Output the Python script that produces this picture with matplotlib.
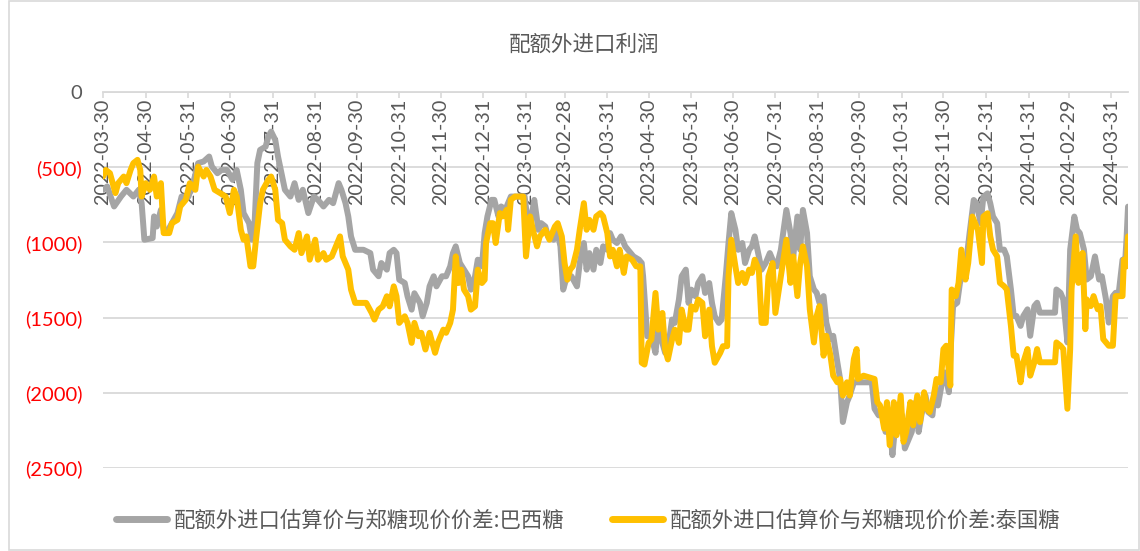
import matplotlib
matplotlib.use("Agg")
import matplotlib.pyplot as plt
import matplotlib.dates as mdates
import pandas as pd
from matplotlib.patches import Rectangle

# ---------------------------------------------------------------- data
title = "配额外进口利润"
name_brazil = "配额外进口估算价与郑糖现价价差:巴西糖"
name_thai = "配额外进口估算价与郑糖现价价差:泰国糖"

brazil_dates = [
    "2022-03-30", "2022-04-02", "2022-04-07", "2022-04-12", "2022-04-16", "2022-04-21",
    "2022-04-25", "2022-04-27", "2022-04-29", "2022-05-05", "2022-05-06", "2022-05-08",
    "2022-05-11", "2022-05-13", "2022-05-15", "2022-05-19", "2022-05-23", "2022-05-26",
    "2022-05-31", "2022-06-04", "2022-06-07", "2022-06-11", "2022-06-15", "2022-06-17",
    "2022-06-21", "2022-06-24", "2022-06-28", "2022-07-02", "2022-07-05", "2022-07-08",
    "2022-07-10", "2022-07-14", "2022-07-16", "2022-07-18", "2022-07-20", "2022-07-22",
    "2022-07-26", "2022-07-28", "2022-07-30", "2022-08-02", "2022-08-04", "2022-08-07",
    "2022-08-09", "2022-08-13", "2022-08-16", "2022-08-19", "2022-08-22", "2022-08-26",
    "2022-08-30", "2022-09-02", "2022-09-06", "2022-09-10", "2022-09-13", "2022-09-17",
    "2022-09-19", "2022-09-22", "2022-09-24", "2022-09-26", "2022-09-29", "2022-10-05",
    "2022-10-10", "2022-10-12", "2022-10-16", "2022-10-18", "2022-10-22", "2022-10-24",
    "2022-10-27", "2022-10-29", "2022-10-31", "2022-11-04", "2022-11-06", "2022-11-09",
    "2022-11-11", "2022-11-15", "2022-11-17", "2022-11-20", "2022-11-22", "2022-11-25",
    "2022-11-27", "2022-12-01", "2022-12-04", "2022-12-07", "2022-12-09", "2022-12-11",
    "2022-12-14", "2022-12-17", "2022-12-20", "2022-12-22", "2022-12-25", "2022-12-27",
    "2022-12-30", "2023-01-01", "2023-01-03", "2023-01-06", "2023-01-08", "2023-01-11",
    "2023-01-13", "2023-01-16", "2023-01-18", "2023-01-20", "2023-01-30", "2023-02-02",
    "2023-02-04", "2023-02-06", "2023-02-09", "2023-02-11", "2023-02-14", "2023-02-16",
    "2023-02-20", "2023-02-22", "2023-02-25", "2023-02-27", "2023-03-01", "2023-03-05",
    "2023-03-09", "2023-03-11", "2023-03-14", "2023-03-16", "2023-03-18", "2023-03-21",
    "2023-03-23", "2023-03-26", "2023-03-28", "2023-03-31", "2023-04-02", "2023-04-04",
    "2023-04-07", "2023-04-10", "2023-04-13", "2023-04-15", "2023-04-19", "2023-04-23",
    "2023-04-25", "2023-04-26", "2023-04-29", "2023-05-02", "2023-05-05", "2023-05-07",
    "2023-05-10", "2023-05-12", "2023-05-14", "2023-05-17", "2023-05-19", "2023-05-22",
    "2023-05-24", "2023-05-27", "2023-05-29", "2023-05-31", "2023-06-03", "2023-06-05",
    "2023-06-08", "2023-06-10", "2023-06-13", "2023-06-15", "2023-06-17", "2023-06-20",
    "2023-06-22", "2023-06-25", "2023-06-27", "2023-06-29", "2023-07-02", "2023-07-04",
    "2023-07-07", "2023-07-09", "2023-07-12", "2023-07-14", "2023-07-16", "2023-07-19",
    "2023-07-21", "2023-07-24", "2023-07-27", "2023-07-30", "2023-08-01", "2023-08-04",
    "2023-08-08", "2023-08-11", "2023-08-13", "2023-08-16", "2023-08-18", "2023-08-20",
    "2023-08-23", "2023-08-25", "2023-08-28", "2023-08-30", "2023-09-01", "2023-09-04",
    "2023-09-06", "2023-09-09", "2023-09-11", "2023-09-14", "2023-09-16", "2023-09-18",
    "2023-09-21", "2023-09-23", "2023-09-26", "2023-10-09", "2023-10-11", "2023-10-14",
    "2023-10-16", "2023-10-19", "2023-10-21", "2023-10-24", "2023-10-26", "2023-10-28",
    "2023-10-31", "2023-11-02", "2023-11-05", "2023-11-07", "2023-11-10", "2023-11-12",
    "2023-11-14", "2023-11-17", "2023-11-19", "2023-11-22", "2023-11-24", "2023-11-26",
    "2023-11-29", "2023-12-01", "2023-12-04", "2023-12-05", "2023-12-07", "2023-12-10",
    "2023-12-12", "2023-12-15", "2023-12-17", "2023-12-19", "2023-12-22", "2023-12-24",
    "2023-12-27", "2023-12-29", "2024-01-01", "2024-01-03", "2024-01-05", "2024-01-08",
    "2024-01-10", "2024-01-13", "2024-01-15", "2024-01-18", "2024-01-20", "2024-01-22",
    "2024-01-25", "2024-01-27", "2024-01-30", "2024-02-01", "2024-02-04", "2024-02-06",
    "2024-02-08", "2024-02-19", "2024-02-20", "2024-02-23", "2024-02-25", "2024-02-28",
    "2024-03-01", "2024-03-04", "2024-03-06", "2024-03-08", "2024-03-11", "2024-03-13",
    "2024-03-16", "2024-03-19", "2024-03-22", "2024-03-24", "2024-03-27", "2024-03-29",
    "2024-04-01", "2024-04-03", "2024-04-05", "2024-04-08", "2024-04-10", "2024-04-11",
    "2024-04-12",
]
brazil_values = [
    -650, -628, -761, -695, -650, -695,
    -650, -739, -982, -971, -827, -894,
    -783, -916, -938, -872, -805, -695,
    -695, -584, -473, -462, -429, -496,
    -540, -518, -518, -584, -518, -650,
    -805, -872, -982, -872, -473, -385,
    -363, -296, -263, -319, -429, -562,
    -650, -695, -606, -717, -650, -805,
    -695, -717, -761, -717, -739, -606,
    -650, -739, -827, -960, -1049, -1049,
    -1071, -1181, -1225, -1137, -1181, -1071,
    -1049, -1071, -1248, -1270, -1358, -1447,
    -1338, -1402, -1491, -1402, -1292, -1225,
    -1292, -1225, -1225, -1159, -1071, -1026,
    -1137, -1181, -1225, -1314, -1225, -1115,
    -1159, -938, -827, -717, -717, -827,
    -761, -783, -739, -695, -695, -916,
    -827, -717, -916, -872, -894, -960,
    -982, -894, -1026, -1314, -1248, -1225,
    -1292, -1137, -1004, -1181, -1071, -1181,
    -1049, -1137, -1026, -1049, -938, -982,
    -1004, -960, -1026, -1049, -1093, -1115,
    -1137, -1225, -1624, -1624, -1734, -1535,
    -1668, -1734, -1712, -1513, -1535, -1380,
    -1225, -1181, -1402, -1314, -1358, -1270,
    -1225, -1336, -1270, -1402, -1491, -1535,
    -1513, -1225, -1004, -805, -916, -1049,
    -1004, -1137, -1049, -1026, -960, -1093,
    -1181, -1137, -1071, -1137, -1159, -1049,
    -784, -938, -1093, -828, -1048, -784,
    -938, -1225, -1313, -1335, -1401, -1357,
    -1533, -1643, -1621, -1797, -1908, -2194,
    -2062, -2018, -1930, -1930, -2106, -2150,
    -2106, -2260, -2128, -2414, -2216, -2260,
    -2150, -2370, -2304, -2260, -2062, -2260,
    -2150, -2018, -2128, -2150, -1974, -2084,
    -1930, -1864, -1996, -1753, -1423, -1401,
    -1269, -1181, -1093, -938, -718, -740,
    -872, -696, -674, -740, -828, -872,
    -1048, -1048, -1093, -1313, -1489, -1489,
    -1555, -1489, -1445, -1621, -1423, -1401,
    -1467, -1467, -1313, -1335, -1379, -1665,
    -1048, -828, -916, -938, -1048, -1247,
    -1225, -1093, -1247, -1225, -1379, -1533,
    -1357, -1335, -1357, -1115, -1115, -960,
    -762,
]

thai_dates = [
    "2022-03-30", "2022-04-01", "2022-04-04", "2022-04-08", "2022-04-10", "2022-04-14",
    "2022-04-16", "2022-04-19", "2022-04-21", "2022-04-24", "2022-04-26", "2022-04-27",
    "2022-04-30", "2022-05-03", "2022-05-06", "2022-05-08", "2022-05-11", "2022-05-13",
    "2022-05-17", "2022-05-19", "2022-05-23", "2022-05-25", "2022-05-29", "2022-06-01",
    "2022-06-05", "2022-06-07", "2022-06-11", "2022-06-13", "2022-06-16", "2022-06-19",
    "2022-06-23", "2022-06-27", "2022-06-30", "2022-07-03", "2022-07-05", "2022-07-08",
    "2022-07-10", "2022-07-12", "2022-07-15", "2022-07-17", "2022-07-19", "2022-07-22",
    "2022-07-24", "2022-07-28", "2022-07-30", "2022-08-02", "2022-08-04", "2022-08-07",
    "2022-08-09", "2022-08-13", "2022-08-16", "2022-08-19", "2022-08-21", "2022-08-25",
    "2022-08-27", "2022-08-31", "2022-09-02", "2022-09-06", "2022-09-08", "2022-09-12",
    "2022-09-16", "2022-09-18", "2022-09-20", "2022-09-24", "2022-09-26", "2022-09-29",
    "2022-10-07", "2022-10-11", "2022-10-13", "2022-10-16", "2022-10-19", "2022-10-22",
    "2022-10-24", "2022-10-27", "2022-10-29", "2022-10-31", "2022-11-04", "2022-11-06",
    "2022-11-09", "2022-11-11", "2022-11-14", "2022-11-16", "2022-11-19", "2022-11-22",
    "2022-11-26", "2022-11-28", "2022-12-02", "2022-12-04", "2022-12-07", "2022-12-09",
    "2022-12-11", "2022-12-13", "2022-12-15", "2022-12-17", "2022-12-20", "2022-12-22",
    "2022-12-25", "2022-12-27", "2022-12-30", "2023-01-01", "2023-01-02", "2023-01-05",
    "2023-01-07", "2023-01-09", "2023-01-12", "2023-01-14", "2023-01-17", "2023-01-18",
    "2023-01-20", "2023-01-23", "2023-01-29", "2023-01-31", "2023-02-03", "2023-02-05",
    "2023-02-08", "2023-02-10", "2023-02-14", "2023-02-17", "2023-02-21", "2023-02-23",
    "2023-02-26", "2023-02-28", "2023-03-02", "2023-03-04", "2023-03-06", "2023-03-09",
    "2023-03-11", "2023-03-14", "2023-03-16", "2023-03-18", "2023-03-21", "2023-03-23",
    "2023-03-26", "2023-03-28", "2023-03-31", "2023-04-02", "2023-04-04", "2023-04-07",
    "2023-04-09", "2023-04-12", "2023-04-14", "2023-04-18", "2023-04-21", "2023-04-24",
    "2023-04-25", "2023-04-27", "2023-04-30", "2023-05-02", "2023-05-05", "2023-05-07",
    "2023-05-10", "2023-05-12", "2023-05-14", "2023-05-17", "2023-05-19", "2023-05-22",
    "2023-05-24", "2023-05-27", "2023-05-29", "2023-05-31", "2023-06-03", "2023-06-05",
    "2023-06-08", "2023-06-10", "2023-06-13", "2023-06-15", "2023-06-17", "2023-06-21",
    "2023-06-23", "2023-06-26", "2023-06-27", "2023-06-29", "2023-07-02", "2023-07-04",
    "2023-07-07", "2023-07-09", "2023-07-12", "2023-07-14", "2023-07-16", "2023-07-19",
    "2023-07-21", "2023-07-24", "2023-07-26", "2023-07-29", "2023-07-31", "2023-08-04",
    "2023-08-08", "2023-08-11", "2023-08-13", "2023-08-16", "2023-08-18", "2023-08-20",
    "2023-08-23", "2023-08-25", "2023-08-28", "2023-08-30", "2023-09-01", "2023-09-04",
    "2023-09-06", "2023-09-09", "2023-09-11", "2023-09-14", "2023-09-16", "2023-09-18",
    "2023-09-21", "2023-09-23", "2023-09-26", "2023-09-28", "2023-09-29", "2023-10-03",
    "2023-10-11", "2023-10-13", "2023-10-15", "2023-10-18", "2023-10-20", "2023-10-22",
    "2023-10-25", "2023-10-27", "2023-10-30", "2023-11-01", "2023-11-03", "2023-11-06",
    "2023-11-08", "2023-11-11", "2023-11-13", "2023-11-16", "2023-11-18", "2023-11-20",
    "2023-11-23", "2023-11-25", "2023-11-28", "2023-11-30", "2023-12-02", "2023-12-05",
    "2023-12-06", "2023-12-09", "2023-12-11", "2023-12-13", "2023-12-16", "2023-12-18",
    "2023-12-21", "2023-12-23", "2023-12-25", "2023-12-28", "2023-12-29", "2024-01-01",
    "2024-01-03", "2024-01-05", "2024-01-08", "2024-01-10", "2024-01-13", "2024-01-15",
    "2024-01-18", "2024-01-20", "2024-01-22", "2024-01-25", "2024-01-27", "2024-01-30",
    "2024-02-01", "2024-02-04", "2024-02-06", "2024-02-08", "2024-02-19", "2024-02-20",
    "2024-02-23", "2024-02-25", "2024-02-28", "2024-03-01", "2024-03-02", "2024-03-05",
    "2024-03-07", "2024-03-10", "2024-03-12", "2024-03-13", "2024-03-16", "2024-03-18",
    "2024-03-21", "2024-03-23", "2024-03-25", "2024-03-29", "2024-04-01", "2024-04-03",
    "2024-04-08", "2024-04-09", "2024-04-11", "2024-04-12",
]
thai_values = [
    -562, -518, -540, -672, -606, -562,
    -606, -518, -473, -451, -518, -695,
    -606, -650, -562, -695, -606, -938,
    -938, -872, -850, -761, -717, -606,
    -650, -496, -562, -518, -562, -650,
    -672, -695, -805, -650, -695, -916,
    -982, -960, -1159, -1159, -982, -739,
    -650, -584, -562, -650, -850, -872,
    -982, -1026, -1049, -938, -1071, -960,
    -1115, -982, -1115, -1071, -1115, -1093,
    -1004, -960, -1093, -1181, -1314, -1402,
    -1402, -1469, -1513, -1447, -1425, -1358,
    -1425, -1292, -1358, -1535, -1491, -1535,
    -1668, -1535, -1624, -1601, -1712, -1601,
    -1734, -1668, -1580, -1601, -1535, -1447,
    -1093, -1270, -1181, -1314, -1358, -1447,
    -1425, -1181, -1270, -1248, -1004, -872,
    -872, -1004, -805, -827, -783, -916,
    -717, -695, -695, -1093, -827, -916,
    -1026, -960, -916, -982, -894, -872,
    -960, -1137, -1248, -1181, -1159, -1049,
    -916, -739, -916, -850, -916, -827,
    -805, -827, -938, -1093, -1049, -1159,
    -1049, -1203, -1093, -1115, -1159, -1159,
    -1800, -1812, -1668, -1646, -1336, -1580,
    -1469, -1712, -1778, -1646, -1580, -1668,
    -1447, -1580, -1580, -1425, -1447, -1380,
    -1402, -1624, -1447, -1690, -1800, -1734,
    -1690, -1690, -1225, -982, -1159, -1270,
    -1203, -1270, -1181, -1203, -1115, -1181,
    -1535, -1535, -1225, -1137, -1469, -1225,
    -982, -1269, -1093, -1357, -1137, -1026,
    -1159, -1445, -1665, -1489, -1423, -1753,
    -1621, -1753, -1886, -1930, -1908, -2018,
    -1930, -2018, -1775, -1709, -1908, -1886,
    -1908, -2062, -2084, -2238, -2062, -2348,
    -2062, -2282, -2018, -2326, -2260, -2062,
    -2216, -2018, -2194, -1996, -2106, -2128,
    -2018, -1908, -1930, -1709, -1687, -1952,
    -1313, -1357, -1269, -1048, -1247, -1137,
    -828, -872, -916, -1137, -828, -806,
    -960, -1048, -1093, -1269, -1291, -1313,
    -1555, -1753, -1753, -1930, -1797, -1709,
    -1886, -1797, -1709, -1797, -1797, -1665,
    -1687, -1709, -2106, -1709, -1313, -960,
    -1269, -1070, -1577, -1379, -1423, -1357,
    -1445, -1423, -1643, -1687, -1687, -1357,
    -1357, -1115, -1159, -960,
]

tick_dates = [
    "2022-03-30", "2022-04-30", "2022-05-31", "2022-06-30", "2022-07-31", "2022-08-31",
    "2022-09-30", "2022-10-31", "2022-11-30", "2022-12-31", "2023-01-31", "2023-02-28",
    "2023-03-31", "2023-04-30", "2023-05-31", "2023-06-30", "2023-07-31", "2023-08-31",
    "2023-09-30", "2023-10-31", "2023-11-30", "2023-12-31", "2024-01-31", "2024-02-29",
    "2024-03-31",
]
y_ticks = [0, -500, -1000, -1500, -2000, -2500]
x_start, x_end = "2022-03-30", "2024-04-12"

# ---------------------------------------------------------------- style
CJK = ["Noto Sans CJK SC", "DejaVu Sans"]
NUM = ["Lato", "DejaVu Sans"]
TEXT_GREY = "#595959"
GRID = "#D9D9D9"
C_BRAZIL = "#A5A5A5"
C_THAI = "#FFC000"
LW = 4.3

plt.rcParams["font.family"] = CJK

fig = plt.figure(figsize=(11.4, 5.51), dpi=100)
ax = fig.add_axes([0.0904, 0.1506, 0.8991, 0.6824])

bd = pd.to_datetime(brazil_dates)
td = pd.to_datetime(thai_dates)
ax.plot(bd, brazil_values, color=C_BRAZIL, lw=LW, solid_joinstyle="round",
        solid_capstyle="round", label=name_brazil, zorder=3)
ax.plot(td, thai_values, color=C_THAI, lw=LW, solid_joinstyle="round",
        solid_capstyle="round", label=name_thai, zorder=4)

ax.set_xlim(pd.Timestamp(x_start), pd.Timestamp(x_end))
ax.set_ylim(y_ticks[-1], y_ticks[0])

# y axis: accounting-style labels, negatives in red
ax.set_yticks(y_ticks)
ax.set_yticklabels(["0" if v == 0 else f"({abs(v)})" for v in y_ticks])
for lab, v in zip(ax.get_yticklabels(), y_ticks):
    lab.set_color(TEXT_GREY if v == 0 else "#FF0000")
    lab.set_fontfamily(NUM)
    lab.set_fontsize(14.5)
ax.tick_params(axis="y", length=0, pad=15)
ax.yaxis.grid(True, color=GRID, lw=1.3)
ax.set_axisbelow(True)

# x axis sits at zero along the top, labels hang below it
ticks = pd.to_datetime(tick_dates)
ax.set_xticks(ticks)
ax.xaxis.set_ticks_position("top")
ax.tick_params(axis="x", direction="in", length=4.5, width=1.2, color=GRID,
               labeltop=False, labelbottom=False)
for t, s in zip(ticks, tick_dates):
    ax.annotate(s, xy=(mdates.date2num(t), 1.0), xycoords=("data", "axes fraction"),
                xytext=(0, -5), textcoords="offset points", rotation=90,
                ha="center", va="top", fontsize=14.2, color=TEXT_GREY,
                family=NUM, zorder=2)

for side in ("left", "right", "bottom"):
    ax.spines[side].set_visible(False)
ax.spines["top"].set_color(GRID)
ax.spines["top"].set_linewidth(1.3)

fig.text(0.512, 0.918, title, ha="center", va="center", fontsize=15.5,
         color=TEXT_GREY)

leg = fig.legend(loc="center", bbox_to_anchor=(0.516, 0.056), ncol=2,
                 frameon=False, fontsize=15.4, handlelength=2.38,
                 handletextpad=0.33, columnspacing=2.2, borderpad=0)
for txt in leg.get_texts():
    txt.set_color(TEXT_GREY)
for line in leg.get_lines():
    line.set_linewidth(5)
    line.set_solid_capstyle("round")

# chart-area frame
fig.patches.append(Rectangle((0.0079, 0.002), 0.9911, 0.996, transform=fig.transFigure,
                             fill=False, edgecolor=GRID, lw=1.2))

fig.savefig("out.png", dpi=100)
